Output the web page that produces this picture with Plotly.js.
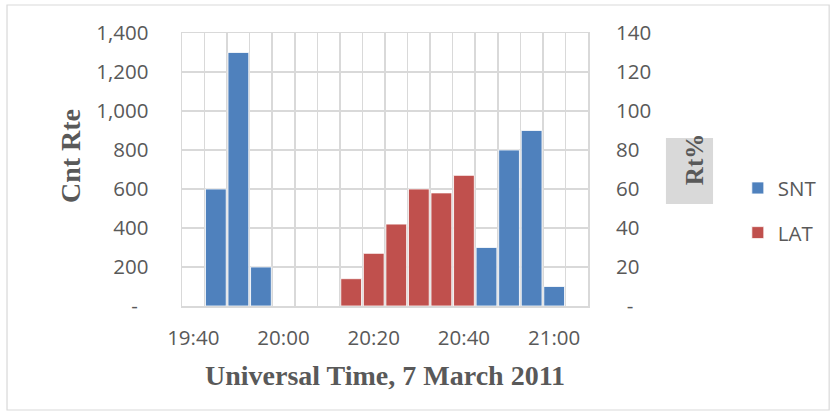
<!DOCTYPE html>
<html>
<head>
<meta charset="utf-8">
<script src="https://cdn.plot.ly/plotly-3.0.1.min.js"></script>
<style>html,body{margin:0;padding:0;background:#fff;}#chart{width:831px;height:414px;}</style>
</head>
<body>
<div id="chart"></div>
<script>
// Time bins (5-minute categories), 7 March 2011
var times = ['19:40','19:45','19:50','19:55','20:00','20:05','20:10','20:15','20:20','20:25',
             '20:30','20:35','20:40','20:45','20:50','20:55','21:00','21:05'];
var snt = [null,600,1300,200,null,null,null,null,null,null,null,null,null,300,800,900,100,null];
var lat = [null,null,null,null,null,null,null,14,27,42,60,58,67,null,null,null,null,null];
var tickLabels = ['19:40','20:00','20:20','20:40','21:00'];
var leftTicks = [0,200,400,600,800,1000,1200,1400];
var leftText = ['-\u00a0\u00a0','200','400','600','800','1,000','1,200','1,400'];
var rightTicks = [0,20,40,60,80,100,120,140];
var rightText = ['\u00a0\u00a0-','20','40','60','80','100','120','140'];
var seriesNames = ['SNT','LAT'];
var leftTitle = 'Cnt Rte';
var rightTitle = 'Rt%';
var xTitle = 'Universal Time, 7 March 2011';

var day = '2011-03-07 ';
var xs = times.map(function(t){return day + t;});
var tickVals = tickLabels.map(function(t){return day + t;});

var grey = '#595959';
var grid = '#d9d9d9';

var traces = [
  {type:'bar', x:xs, y:snt, name:seriesNames[0], yaxis:'y', legendgroup:'a',
   marker:{color:'#4F81BD', line:{color:'#ffffff', width:0.8}}},
  {type:'bar', x:xs, y:lat, name:seriesNames[1], yaxis:'y2', legendgroup:'b',
   marker:{color:'#C0504D', line:{color:'#ffffff', width:0.8}}}
];

var layout = {
  width:831, height:414,
  margin:{l:182, r:243, t:33, b:108, autoexpand:false},
  paper_bgcolor:'#ffffff', plot_bgcolor:'#ffffff',
  font:{family:'Open Sans, sans-serif', color:grey, size:20},
  bargap:0.08,
  barmode:'group',
  showlegend:true,
  legend:{x:1.369, xanchor:'left', y:0.505, yanchor:'top', traceorder:'grouped',
          tracegroupgap:15, font:{size:20.5, color:grey}, bgcolor:'rgba(0,0,0,0)'},
  xaxis:{type:'date', range:[day+'19:37:30', day+'21:07:30'],
         tickmode:'array', tickvals:tickVals, ticktext:tickLabels,
         showgrid:false, ticks:'', ticklabelstandoff:13,
         showline:true, mirror:true, linecolor:grid, linewidth:1.5,
         minor:{tick0:day+'19:37:30', dtick:300000, showgrid:true, gridcolor:grid, gridwidth:1.5, ticks:''},
         tickfont:{size:20.5, color:grey}, zeroline:false},
  yaxis:{range:[0,1400], tickmode:'array', tickvals:leftTicks, ticktext:leftText,
         showgrid:true, gridcolor:grid, gridwidth:1.5, zeroline:false, ticks:'',
         ticklabelstandoff:28, showline:true, mirror:true, linecolor:grid, linewidth:1.5,
         tickfont:{size:20.5, color:grey}},
  yaxis2:{range:[0,140], overlaying:'y', side:'right', tickmode:'array', tickvals:rightTicks,
          ticktext:rightText, showgrid:false, zeroline:false, ticks:'', ticklabelstandoff:27,
          tickfont:{size:20.5, color:grey}},
  shapes:[
    {type:'rect', xref:'paper', yref:'paper', x0:-0.431, x1:1.594, y0:-0.381, y1:1.1026,
     line:{color:grid, width:1.2}, fillcolor:'rgba(0,0,0,0)', layer:'below'},
    {type:'rect', xref:'paper', yref:'paper', x0:1.192, x1:1.308, y0:0.374, y1:0.615,
     line:{width:0}, fillcolor:'#d9d9d9', layer:'below'}
  ],
  annotations:[
    {text:'<b>'+xTitle+'</b>', xref:'paper', yref:'paper', x:0.5, y:-0.256,
     xanchor:'center', yanchor:'middle', showarrow:false,
     font:{family:'Liberation Serif, serif', size:28, color:grey}},
    {text:'<b>'+leftTitle+'</b>', xref:'paper', yref:'paper', x:-0.276, y:0.549,
     xanchor:'center', yanchor:'middle', showarrow:false, textangle:-90,
     font:{family:'Liberation Serif, serif', size:28, color:grey}},
    {text:'<b>'+rightTitle+'</b>', xref:'paper', yref:'paper', x:1.264, y:0.535,
     xanchor:'center', yanchor:'middle', showarrow:false, textangle:-90,
     font:{family:'Liberation Serif, serif', size:25, color:grey}}
  ]
};

Plotly.newPlot('chart', traces, layout, {displayModeBar:false, staticPlot:true});
</script>
</body>
</html>
